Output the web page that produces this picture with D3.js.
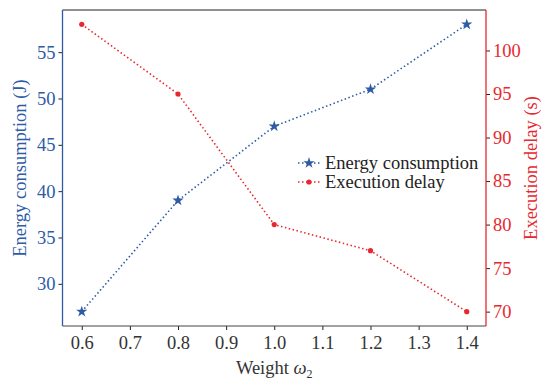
<!DOCTYPE html>
<html>
<head>
<meta charset="utf-8">
<script src="https://cdn.jsdelivr.net/npm/d3@7"></script>
<style>
  body { margin: 0; background: #fff; }
  svg text { font-family: "Liberation Serif", "DejaVu Serif", serif; }
</style>
</head>
<body>
<div id="chart"></div>
<script>
// Data
var weights = [0.6, 0.8, 1.0, 1.2, 1.4];
var energy = [27, 39, 47, 51, 58];
var delay = [103, 95, 80, 77, 70];
var xTicks = [0.6, 0.7, 0.8, 0.9, 1.0, 1.1, 1.2, 1.3, 1.4];
var energyTicks = [30, 35, 40, 45, 50, 55];
var delayTicks = [70, 75, 80, 85, 90, 95, 100];

var W = 543, H = 381;
var margin = {top: 10, right: 57, bottom: 55, left: 62.5};
var width = W - margin.left - margin.right;
var height = H - margin.top - margin.bottom;

var blue = '#2d5ba6', red = '#e8282e', fs = 18.5;
var serif = '"Liberation Serif", "DejaVu Serif", serif';

var svg = d3.select('#chart').append('svg')
    .attr('width', W).attr('height', H)
    .attr('font-family', serif);
var g = svg.append('g')
    .attr('transform', `translate(${margin.left}, ${margin.top})`);

// matplotlib-like 5% padding
var pad = (lo, hi) => { var m = (hi - lo) * 0.05; return [lo - m, hi + m]; };

var x = d3.scaleLinear().domain(pad(0.6, 1.4)).range([0, width]);
var yL = d3.scaleLinear().domain(pad(d3.min(energy), d3.max(energy))).range([height, 0]);
var yR = d3.scaleLinear().domain(pad(d3.min(delay), d3.max(delay))).range([height, 0]);

// axes
var xAxis = g.append('g').attr('transform', `translate(0, ${height})`)
  .call(d3.axisBottom(x).tickValues(xTicks).tickFormat(d3.format('.1f')).tickSizeOuter(0).tickSize(4).tickPadding(6));
var lAxis = g.append('g')
  .call(d3.axisLeft(yL).tickValues(energyTicks).tickSizeOuter(0).tickSize(4).tickPadding(3));
var rAxis = g.append('g').attr('transform', `translate(${width}, 0)`)
  .call(d3.axisRight(yR).tickValues(delayTicks).tickSizeOuter(0).tickSize(4).tickPadding(3));

[xAxis, lAxis, rAxis].forEach(a => {
  a.attr('font-family', serif).attr('font-size', fs);
  a.selectAll('.tick line').attr('stroke', '#222');
  a.select('.domain').remove();
});
xAxis.selectAll('text').attr('fill', '#333');
lAxis.selectAll('text').attr('fill', blue);
rAxis.selectAll('text').attr('fill', red);

// spines
g.append('line').attr('x1', 0).attr('x2', width).attr('y1', 0).attr('y2', 0).attr('stroke', '#222');
g.append('line').attr('x1', 0).attr('x2', width).attr('y1', height).attr('y2', height).attr('stroke', '#444');
g.append('line').attr('x1', 0).attr('x2', 0).attr('y1', 0).attr('y2', height).attr('stroke', blue).attr('stroke-width', 1.3);
g.append('line').attr('x1', width).attr('x2', width).attr('y1', 0).attr('y2', height).attr('stroke', red).attr('stroke-width', 1.3);

// axis titles
svg.append('text')
  .attr('transform', `translate(26, ${margin.top + height / 2}) rotate(-90)`)
  .attr('text-anchor', 'middle').attr('fill', blue).attr('font-size', fs)
  .text('Energy consumption (J)');
svg.append('text')
  .attr('transform', `translate(537, ${margin.top + height / 2}) rotate(-90)`)
  .attr('text-anchor', 'middle').attr('fill', red).attr('font-size', fs)
  .text('Execution delay (s)');
var xl = svg.append('text')
  .attr('x', margin.left + width / 2).attr('y', 374)
  .attr('text-anchor', 'middle').attr('fill', '#333').attr('font-size', fs);
xl.append('tspan').text('Weight ');
xl.append('tspan').attr('font-style', 'italic').text('ω');
xl.append('tspan').attr('dy', 4).attr('font-size', 12).text('2');

// lines
var energyData = weights.map((w, i) => ({x: w, y: energy[i]}));
var delayData = weights.map((w, i) => ({x: w, y: delay[i]}));

g.append('path').datum(delayData)
  .attr('fill', 'none').attr('stroke', red).attr('stroke-width', 1.6).attr('stroke-dasharray', '1.5 2.5')
  .attr('d', d3.line().x(d => x(d.x)).y(d => yR(d.y)));
g.append('path').datum(energyData)
  .attr('fill', 'none').attr('stroke', blue).attr('stroke-width', 1.6).attr('stroke-dasharray', '1.5 2.5')
  .attr('d', d3.line().x(d => x(d.x)).y(d => yL(d.y)));

var star = d3.symbol().type(d3.symbolStar).size(40);
g.selectAll('.dot').data(delayData).join('circle')
  .attr('cx', d => x(d.x)).attr('cy', d => yR(d.y)).attr('r', 2.6).attr('fill', red);
g.selectAll('.star').data(energyData).join('path')
  .attr('transform', d => `translate(${x(d.x)}, ${yL(d.y)})`)
  .attr('d', star).attr('fill', blue);

// legend
var legend = svg.append('g').attr('transform', 'translate(298, 163)');
var items = [
  {label: 'Energy consumption', color: blue, sym: 'star'},
  {label: 'Execution delay', color: red, sym: 'dot'}
];
items.forEach((it, i) => {
  var row = legend.append('g').attr('transform', `translate(0, ${i * 19})`);
  row.append('line').attr('x1', 0).attr('x2', 22).attr('stroke', it.color)
    .attr('stroke-width', 1.6).attr('stroke-dasharray', '1.5 2.5');
  if (it.sym === 'star') row.append('path').attr('transform', 'translate(11,0)').attr('d', star).attr('fill', it.color);
  else row.append('circle').attr('cx', 11).attr('r', 2.6).attr('fill', it.color);
  row.append('text').attr('x', 27).attr('y', 6).attr('fill', '#222')
    .attr('font-size', fs).text(it.label);
});
</script>
</body>
</html>
